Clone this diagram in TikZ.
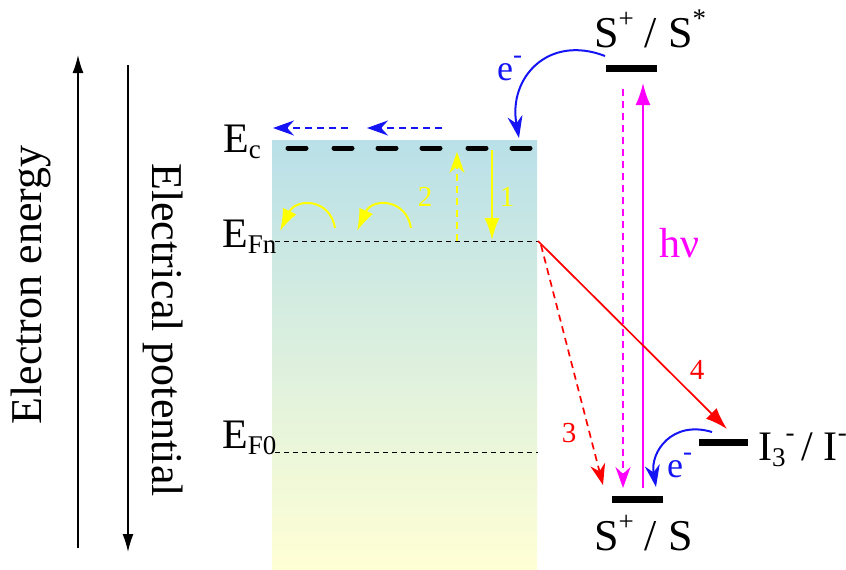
\documentclass[tikz,border=0pt]{standalone}
\usepackage{fontspec}
\setmainfont{Liberation Serif}
\usetikzlibrary{arrows.meta}

\definecolor{celltop}{RGB}{185,224,232}
\definecolor{cellmid}{RGB}{216,236,222}
\definecolor{cellbot}{RGB}{255,255,212}
\definecolor{eblue}{RGB}{20,20,245}
\definecolor{pmag}{RGB}{255,0,255}
\definecolor{pyel}{RGB}{255,255,0}
\definecolor{pred}{RGB}{255,0,0}
\newcommand{\fsz}[1]{\fontsize{#1}{#1}\selectfont}
\newcommand{\lowsub}[1]{\raisebox{-0.16em}{\fsz{27}#1}}
\newcommand{\hisup}[1]{\raisebox{0.45em}{\fsz{27}#1}}

\begin{document}
\begin{tikzpicture}[
        x=1pt, y=-1pt,
        axis/.style={line width=1.4pt, -{Latex[length=18pt,width=11pt]}},
        lvl/.style={line width=7pt},
        ecdash/.style={line width=5pt, line cap=round},
        fermi/.style={line width=0.9pt, dash pattern=on 5pt off 4pt},
        txt/.style={inner sep=0pt, anchor=base west, font=\fsz{42}},
        num/.style={inner sep=0pt, font=\fsz{29}},
        flow/.style={line width=2pt, -{Latex[length=22pt,width=15pt]}},
        hop/.style={line width=2pt, dash pattern=on 7pt off 5pt, -{Stealth[length=21pt,width=15pt]}},
        elec/.style={line width=2pt, eblue, -{Stealth[length=22pt,width=15pt]}}]

    \useasboundingbox (0,0) rectangle (846,570);

    % --- Ejes de energía / potencial
    \coordinate (eneBot) at (78,548);
    \coordinate (eneTop) at (78,55);
    \coordinate (potTop) at (128,65);
    \coordinate (potBot) at (128,552);
    \draw[axis] (eneBot) -- (eneTop);
    \draw[axis] (potTop) -- (potBot);
    \node[rotate=90, font=\fsz{44}, inner sep=0pt] (eneLbl) at (31,285) {Electron energy};
    \node[rotate=-90, font=\fsz{44}, inner sep=0pt] (potLbl) at (163,330) {Electrical potential};

    % --- Semiconductor (degradado)
    \shade[top color=celltop, middle color=cellmid, bottom color=cellbot]
        (272,140) rectangle (537,570);

    % --- Banda de conducción
    \foreach \x in {297,343,387,431,477,521}
        \draw[ecdash] (\x-9,148) -- (\x+9,148);
    \node[txt] (ecLbl) at (223,152) {E\lowsub{c}};

    % --- Niveles de Fermi
    \coordinate (efnL) at (275,241);
    \coordinate (efnR) at (538,241);
    \coordinate (ef0L) at (275,452);
    \coordinate (ef0R) at (538,452);
    \draw[fermi] (efnL) -- (efnR);
    \draw[fermi] (ef0L) -- (ef0R);
    \node[txt] (efnLbl) at (222,247) {E\lowsub{Fn}};
    \node[txt] (ef0Lbl) at (222,448) {E\lowsub{F0}};

    % --- Transporte en la banda (azul)
    \coordinate (trA1) at (348,128);
    \coordinate (trA2) at (273,128);
    \coordinate (trB1) at (442,128);
    \coordinate (trB2) at (367,128);
    \draw[hop, eblue] (trA1) -- (trA2);
    \draw[hop, eblue] (trB1) -- (trB2);

    % --- Atrapamiento / desatrapamiento (amarillo)
    \coordinate (trapTop) at (492,150);
    \coordinate (trapBot) at (492,240);
    \coordinate (detrBot) at (457,241);
    \coordinate (detrTop) at (457,152);
    \draw[flow, pyel] (trapTop) -- (trapBot);
    \draw[hop, pyel] (detrBot) -- (detrTop);
    \node[num, pyel] (oneLbl) at (507,197) {1};
    \node[num, pyel] (twoLbl) at (425,197) {2};
    \coordinate (jmpA1) at (335,228);
    \coordinate (jmpA2) at (280,231);
    \coordinate (jmpB1) at (411,228);
    \coordinate (jmpB2) at (357,231);
    \draw[flow, pyel] (jmpA1) .. controls (330,198) and (296,198) .. (jmpA2);
    \draw[flow, pyel] (jmpB1) .. controls (406,198) and (372,198) .. (jmpB2);

    % --- Colorante y electrolito
    \coordinate (sstarL) at (606,68);
    \coordinate (sstarR) at (657,68);
    \coordinate (sgndL) at (612,499);
    \coordinate (sgndR) at (663,499);
    \coordinate (redoxL) at (699,442);
    \coordinate (redoxR) at (748,442);
    \draw[lvl] (sstarL) -- (sstarR);
    \draw[lvl] (sgndL) -- (sgndR);
    \draw[lvl] (redoxL) -- (redoxR);
    \node[txt, font=\fsz{44}] (sstarLbl) at (594,47) {S\hisup{+} / S\hisup{*}};
    \node[txt, font=\fsz{44}] (sgndLbl) at (594,550) {S\hisup{+} / S};
    \node[txt, font=\fsz{42}] (redoxLbl) at (758,460) {I\lowsub{3}\hisup{-}\,/ I\hisup{-}};

    % --- Excitación y relajación (magenta)
    \coordinate (exBot) at (643,488);
    \coordinate (exTop) at (643,83);
    \coordinate (rlTop) at (623,89);
    \coordinate (rlBot) at (623,488);
    \draw[flow, pmag] (exBot) -- (exTop);
    \draw[hop, pmag] (rlTop) -- (rlBot);
    \node[txt, pmag] (hvLbl) at (659,257) {hν};

    % --- Inyección y regeneración (azul)
    \coordinate (injA) at (605,56);
    \coordinate (injB) at (519,138);
    \coordinate (regA) at (712,432);
    \coordinate (regB) at (656,487);
    \draw[elec] (injA) .. controls (548,34) and (508,78) .. (injB);
    \draw[elec] (regA) .. controls (672,420) and (650,452) .. (regB);
    \node[txt, eblue, font=\fsz{36}] (injLbl) at (497,80) {e\hisup{-}};
    \node[txt, eblue, font=\fsz{36}] (regLbl) at (667,477) {e\hisup{-}};

    % --- Recombinación (rojo)
    \coordinate (recTip) at (727,429);
    \coordinate (rcbStart) at (541,245);
    \coordinate (rcbTip) at (603,485);
    \draw[flow, pred, line width=1.7pt] (efnR) -- (recTip);
    \draw[hop, pred, line width=1.7pt] (rcbStart) -- (rcbTip);
    \node[num, pred] (fourLbl) at (697,370) {4};
    \node[num, pred] (threeLbl) at (569,433) {3};

\end{tikzpicture}
\end{document}
